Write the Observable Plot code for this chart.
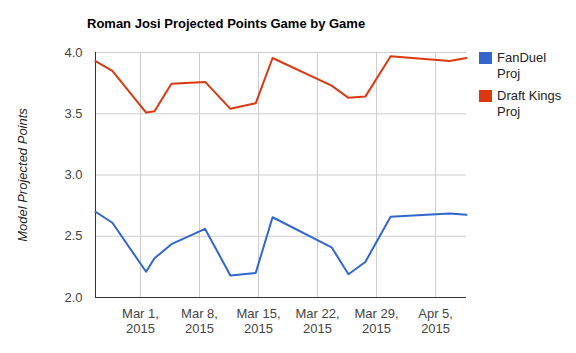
<!DOCTYPE html>
<html>
<head>
<meta charset="utf-8">
<script src="https://cdn.jsdelivr.net/npm/d3@7"></script>
<script src="https://cdn.jsdelivr.net/npm/@observablehq/plot@0.6"></script>
<style>
  body { margin: 0; background: #fff; font-family: "Liberation Sans", Arial, sans-serif; }
  #wrap { position: relative; width: 576px; height: 353px; overflow: hidden; }
  #chart { position: absolute; left: 0; top: 0; }
  .title { position: absolute; left: 87px; top: 16px; font-size: 13px; font-weight: bold; color: #000; white-space: nowrap; }
  .ylab { position: absolute; left: 22px; top: 175px; font-size: 13px; font-style: italic; color: #222; white-space: nowrap; transform: translate(-50%, -50%) rotate(-90deg); }
  .leg { position: absolute; font-size: 13px; line-height: 16px; color: #222; }
  .sw { position: absolute; width: 13px; height: 12px; }
</style>
</head>
<body>
<div id="wrap">
  <div id="chart"></div>
  <div class="title" id="title"></div>
  <div class="ylab" id="ylab"></div>
  <div id="legend"></div>
</div>
<script>
const title = "Roman Josi Projected Points Game by Game";
const yLabel = "Model Projected Points";
const seriesNames = ["FanDuel Proj", "Draft Kings Proj"];
const seriesLegend = [["FanDuel", "Proj"], ["Draft Kings", "Proj"]];
const seriesColors = ["#3366cc", "#dc3912"];
const gameDates = ["2015-02-23T16:00", "2015-02-25T16:00", "2015-03-01T16:00", "2015-03-02T16:00", "2015-03-04T16:00", "2015-03-08T16:00", "2015-03-11T16:00", "2015-03-14T16:00", "2015-03-16T16:00", "2015-03-23T16:00", "2015-03-25T16:00", "2015-03-27T16:00", "2015-03-30T16:00", "2015-04-06T16:00", "2015-04-08T16:00"];
const fanDuel = [2.70, 2.61, 2.21, 2.32, 2.435, 2.56, 2.18, 2.20, 2.655, 2.41, 2.19, 2.29, 2.66, 2.685, 2.675];
const draftKings = [3.93, 3.85, 3.51, 3.52, 3.745, 3.76, 3.54, 3.585, 3.955, 3.73, 3.63, 3.64, 3.97, 3.93, 3.955];
const yTicks = [2.0, 2.5, 3.0, 3.5, 4.0];
const xTickDates = ["2015-03-01", "2015-03-08", "2015-03-15", "2015-03-22", "2015-03-29", "2015-04-05"];

const parse = d3.timeParse("%Y-%m-%dT%H:%M");
const parseDay = d3.timeParse("%Y-%m-%d");
const dates = gameDates.map(parse);
const xTicks = xTickDates.map(parseDay);
const rows = [];
[fanDuel, draftKings].forEach((vals, si) => {
  vals.forEach((v, i) => rows.push({date: dates[i], value: v, series: seriesNames[si]}));
});

const fmt = d3.timeFormat("%b %-d,");
const chart = Plot.plot({
  width: 576,
  height: 353,
  marginLeft: 95,
  marginRight: 110,
  marginTop: 52,
  marginBottom: 56,
  style: {fontFamily: "'Liberation Sans', Arial, sans-serif", fontSize: "13px", color: "#444", background: "white", overflow: "visible"},
  x: {type: "time", domain: d3.extent(dates)},
  y: {domain: [2, 4]},
  color: {domain: seriesNames, range: seriesColors},
  marks: [
    Plot.gridY(yTicks, {stroke: "#cccccc", strokeOpacity: 1}),
    Plot.gridX(xTicks, {stroke: "#cccccc", strokeOpacity: 1}),
    Plot.axisY(yTicks, {tickSize: 0, tickPadding: 13, tickFormat: d3.format(".1f"), label: null, fill: "#444", fontSize: 13}),
    Plot.axisX(xTicks, {tickSize: 0, tickPadding: 10, tickFormat: d => fmt(d) + "\n" + d.getFullYear(), label: null, fill: "#444", fontSize: 13, lineHeight: 1.15}),
    Plot.ruleX([dates[0]], {stroke: "#333"}),
    Plot.ruleY([2], {stroke: "#333"}),
    Plot.line(rows, {x: "date", y: "value", z: "series", stroke: "series", strokeWidth: 2, strokeLinejoin: "round"})
  ]
});
document.getElementById("chart").appendChild(chart);
document.getElementById("title").textContent = title;
document.getElementById("ylab").textContent = yLabel;

const legend = document.getElementById("legend");
const legTops = [50, 88];
seriesLegend.forEach((lines, i) => {
  const sw = document.createElement("div");
  sw.className = "sw";
  sw.style.left = "479px";
  sw.style.top = (legTops[i] + 2) + "px";
  sw.style.background = seriesColors[i];
  legend.appendChild(sw);
  const t = document.createElement("div");
  t.className = "leg";
  t.style.left = "497px";
  t.style.top = legTops[i] + "px";
  t.innerHTML = lines.join("<br>");
  legend.appendChild(t);
});
</script>
</body>
</html>
